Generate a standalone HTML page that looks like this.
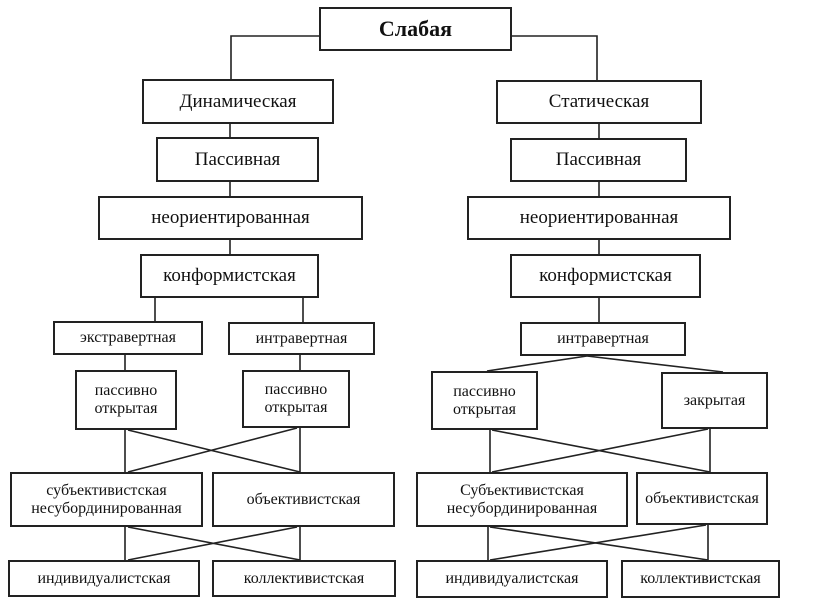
<!DOCTYPE html>
<html><head><meta charset="utf-8"><style>
html,body{margin:0;padding:0;background:#fff;}
body{width:818px;height:603px;position:relative;overflow:hidden;font-family:"Liberation Serif","DejaVu Serif",serif;color:#111;}
.b{position:absolute;box-sizing:border-box;border:2px solid #222;display:flex;align-items:center;justify-content:center;text-align:center;font-size:19px;line-height:20px;background:#fff;white-space:nowrap;}
.s{font-size:16px;line-height:18px;}
svg{position:absolute;left:0;top:0;}
</style></head><body>
<svg width="818" height="603" stroke="#222" stroke-width="1.6" fill="none">
<polyline points="319,36 231,36 231,79"/>
<polyline points="512,36 597,36 597,80"/>
<line x1="230" y1="124" x2="230" y2="137"/><line x1="230" y1="182" x2="230" y2="196"/><line x1="230" y1="240" x2="230" y2="254"/>
<line x1="599" y1="124" x2="599" y2="138"/><line x1="599" y1="182" x2="599" y2="196"/><line x1="599" y1="240" x2="599" y2="254"/>
<line x1="155" y1="298" x2="155" y2="321"/><line x1="303" y1="298" x2="303" y2="322"/>
<line x1="599" y1="298" x2="599" y2="322"/>
<line x1="125" y1="355" x2="125" y2="370"/><line x1="300" y1="355" x2="300" y2="370"/>
<line x1="587" y1="356" x2="487" y2="371"/><line x1="587" y1="356" x2="723" y2="372"/>
<line x1="125" y1="430" x2="125" y2="472"/><line x1="300" y1="428" x2="300" y2="472"/>
<line x1="128" y1="430" x2="300" y2="472"/><line x1="297" y1="428" x2="128" y2="472"/>
<line x1="490" y1="430" x2="490" y2="472"/><line x1="710" y1="429" x2="710" y2="472"/>
<line x1="492" y1="430" x2="710" y2="472"/><line x1="708" y1="429" x2="492" y2="472"/>
<line x1="125" y1="527" x2="125" y2="560"/><line x1="300" y1="527" x2="300" y2="560"/>
<line x1="128" y1="527" x2="300" y2="560"/><line x1="297" y1="527" x2="128" y2="560"/>
<line x1="488" y1="527" x2="488" y2="560"/><line x1="708" y1="525" x2="708" y2="560"/>
<line x1="490" y1="527" x2="708" y2="560"/><line x1="706" y1="525" x2="490" y2="560"/>
</svg>
<div class="b" style="left:319px;top:7px;width:193px;height:44px;font-weight:bold;font-size:22px;">Слабая</div>
<div class="b" style="left:142px;top:79px;width:192px;height:45px;">Динамическая</div>
<div class="b" style="left:496px;top:80px;width:206px;height:44px;">Статическая</div>
<div class="b" style="left:156px;top:137px;width:163px;height:45px;">Пассивная</div>
<div class="b" style="left:510px;top:138px;width:177px;height:44px;">Пассивная</div>
<div class="b" style="left:98px;top:196px;width:265px;height:44px;">неориентированная</div>
<div class="b" style="left:467px;top:196px;width:264px;height:44px;">неориентированная</div>
<div class="b" style="left:140px;top:254px;width:179px;height:44px;">конформистская</div>
<div class="b" style="left:510px;top:254px;width:191px;height:44px;">конформистская</div>
<div class="b s" style="left:53px;top:321px;width:150px;height:34px;">экстравертная</div>
<div class="b s" style="left:228px;top:322px;width:147px;height:33px;">интравертная</div>
<div class="b s" style="left:520px;top:322px;width:166px;height:34px;">интравертная</div>
<div class="b s" style="left:75px;top:370px;width:102px;height:60px;">пассивно<br>открытая</div>
<div class="b s" style="left:242px;top:370px;width:108px;height:58px;">пассивно<br>открытая</div>
<div class="b s" style="left:431px;top:371px;width:107px;height:59px;">пассивно<br>открытая</div>
<div class="b s" style="left:661px;top:372px;width:107px;height:57px;">закрытая</div>
<div class="b s" style="left:10px;top:472px;width:193px;height:55px;">субъективистская<br>несубординированная</div>
<div class="b s" style="left:212px;top:472px;width:183px;height:55px;">объективистская</div>
<div class="b s" style="left:416px;top:472px;width:212px;height:55px;">Субъективистская<br>несубординированная</div>
<div class="b s" style="left:636px;top:472px;width:132px;height:53px;">объективистская</div>
<div class="b s" style="left:8px;top:560px;width:192px;height:37px;">индивидуалистская</div>
<div class="b s" style="left:212px;top:560px;width:184px;height:37px;">коллективистская</div>
<div class="b s" style="left:416px;top:560px;width:192px;height:38px;">индивидуалистская</div>
<div class="b s" style="left:621px;top:560px;width:159px;height:38px;">коллективистская</div>
</body></html>
